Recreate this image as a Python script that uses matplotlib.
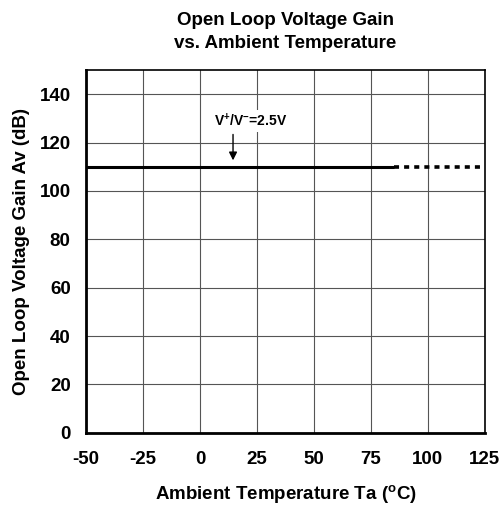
import numpy as np
import matplotlib
matplotlib.use("Agg")
import matplotlib.pyplot as plt

plt.rcParams['font.family'] = ['Liberation Sans', 'DejaVu Sans']
plt.rcParams['font.weight'] = 'bold'
plt.rcParams['axes.unicode_minus'] = False
plt.rcParams['mathtext.fontset'] = 'custom'
plt.rcParams['mathtext.rm'] = 'Liberation Sans:bold'
plt.rcParams['mathtext.bf'] = 'Liberation Sans:bold'

# data
temp_solid = [-50, 85]
gain_solid = [110, 110]
temp_dotted = [85, 125]
gain_dotted = [110, 110]

x_ticks = [-50, -25, 0, 25, 50, 75, 100, 125]
y_ticks = [0, 20, 40, 60, 80, 100, 120, 140]

FS = 13.5

fig = plt.figure(figsize=(5.03, 5.11), dpi=100)
ax = fig.add_axes([0.171, 0.153, 0.793, 0.710])

ax.plot(temp_solid, gain_solid, color='black', linewidth=2.2, solid_capstyle='butt')
ax.plot(temp_dotted, gain_dotted, color='black', linewidth=2.6,
        linestyle=(0, (1.4, 1.4)))

ax.set_xlim(-50, 125)
ax.set_ylim(0, 150)
ax.set_xticks(x_ticks)
ax.set_yticks(y_ticks)
ax.tick_params(length=0, labelsize=FS)
ax.tick_params(axis='y', pad=11)
ax.tick_params(axis='x', pad=13)
for lab in ax.get_xticklabels() + ax.get_yticklabels():
    lab.set_fontweight('bold')

ax.grid(True, color='#555555', linewidth=0.8)
ax.set_axisbelow(True)
for s in ax.spines.values():
    s.set_color('black')
    s.set_linewidth(1.2)
ax.spines['left'].set_linewidth(2)
ax.spines['bottom'].set_linewidth(2)

ax.set_xlabel('Ambient Temperature Ta ($\\mathrm{^{o}}$C)', fontsize=FS,
              fontweight='bold', labelpad=11)
ax.set_ylabel('Open Loop Voltage Gain Av (dB)', fontsize=FS,
              fontweight='bold', labelpad=7)
ax.set_title('Open Loop Voltage Gain\nvs. Ambient Temperature', fontsize=FS,
             fontweight='bold', pad=16, linespacing=1.45)

ax.annotate('', xy=(14.5, 111.5), xytext=(14.5, 124.5),
            arrowprops=dict(arrowstyle='-|>', color='black', lw=1,
                          mutation_scale=12))
ax.text(22.4, 128.9, 'V$\\mathrm{^{+}}$/V$\\mathrm{^{-}}$=2.5V', fontsize=10,
        fontweight='bold', ha='center', va='center',
        bbox=dict(facecolor='white', edgecolor='none', pad=2))

fig.savefig('out.png', dpi=100)
